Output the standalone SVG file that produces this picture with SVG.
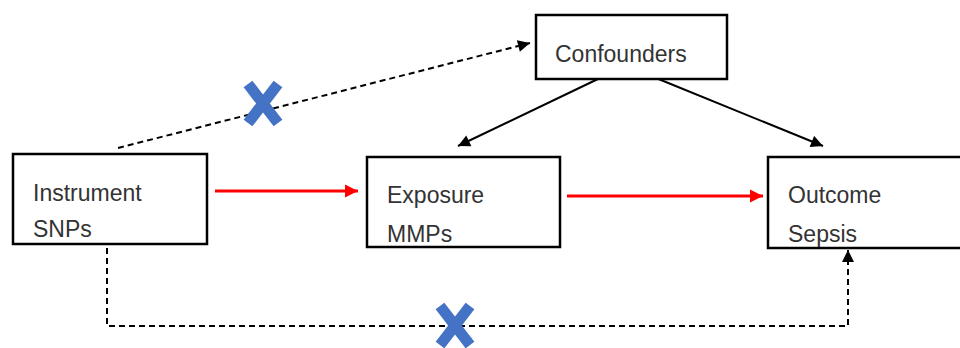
<svg xmlns="http://www.w3.org/2000/svg" width="960" height="348" viewBox="0 0 960 348">
<style>
.box{fill:#fff;stroke:#000;stroke-width:2.5}
.lbl{font-family:"Liberation Sans",Arial,sans-serif;font-size:23px;fill:#333}
.red{stroke:#f00;stroke-width:3;fill:none}
.blk{stroke:#000;stroke-width:2;fill:none}
.dash{stroke:#000;stroke-width:2;fill:none;stroke-dasharray:6 4}
.xm{stroke:#4472c4;stroke-width:11;stroke-linecap:butt}
</style>
<defs>
<marker id="ah" viewBox="0 0 10 10" refX="10" refY="5" markerWidth="7" markerHeight="6" markerUnits="strokeWidth" orient="auto"><path d="M0,0L10,5L0,10z" fill="#000"/></marker>
<marker id="ahr" viewBox="0 0 10 10" refX="10" refY="5" markerWidth="4.5" markerHeight="4.5" markerUnits="strokeWidth" orient="auto"><path d="M0,0L10,5L0,10z" fill="#f00"/></marker>
</defs>
<rect width="960" height="348" fill="#fff"/>
<g id="connectors">
<line class="red" x1="215" y1="191" x2="358" y2="191" marker-end="url(#ahr)"/>
<line class="red" x1="567" y1="196" x2="763" y2="196" marker-end="url(#ahr)"/>
<line class="dash" x1="118" y1="148" x2="530" y2="43" marker-end="url(#ah)"/>
<line class="blk" x1="600" y1="78" x2="458" y2="146" marker-end="url(#ah)"/>
<line class="blk" x1="656" y1="78" x2="823" y2="146" marker-end="url(#ah)"/>
<polyline class="dash" points="107,248 107,326 848,326 848,250" marker-end="url(#ah)"/>
</g>
<g id="instrument"><rect class="box" x="13" y="154" width="194" height="90"/><text class="lbl" x="33" y="201">Instrument</text><text class="lbl" x="33" y="237">SNPs</text></g>
<g id="confounders"><rect class="box" x="536" y="15" width="191" height="64"/><text class="lbl" x="555" y="62">Confounders</text></g>
<g id="exposure"><rect class="box" x="367" y="157" width="193" height="90"/><text class="lbl" x="387" y="203">Exposure</text><text class="lbl" x="387" y="242">MMPs</text></g>
<g id="outcome"><rect class="box" x="768" y="157" width="200" height="91"/><text class="lbl" x="788" y="203">Outcome</text><text class="lbl" x="788" y="242">Sepsis</text></g>
<g id="x1"><line class="xm" x1="248" y1="84" x2="278" y2="123"/><line class="xm" x1="278" y1="84" x2="248" y2="123"/></g>
<g id="x2"><line class="xm" x1="440" y1="306" x2="470" y2="345"/><line class="xm" x1="470" y1="306" x2="440" y2="345"/></g>
</svg>
